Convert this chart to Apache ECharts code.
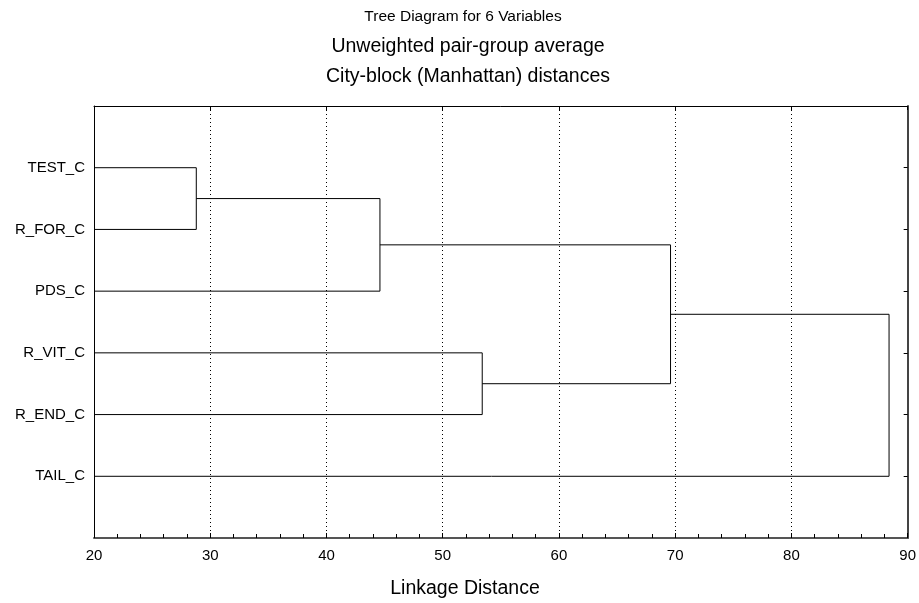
<!DOCTYPE html>
<html><head><meta charset="utf-8">
<script src="https://cdn.jsdelivr.net/npm/echarts@6/dist/echarts.min.js"></script>
<style>html,body{margin:0;padding:0;background:#fff}#c{width:919px;height:603px}</style>
</head><body><div id="c"></div>
<script>
const leaves = ['TEST_C','R_FOR_C','PDS_C','R_VIT_C','R_END_C','TAIL_C'];
// merges: [childA, childB, linkage distance]; nodes >= 6 are earlier clusters
const mergeA = [0, 6, 3, 7, 9];
const mergeB = [1, 2, 4, 8, 5];
const mergeDist = [28.8, 44.6, 53.4, 69.6, 88.4];
const xTicks = [20, 30, 40, 50, 60, 70, 80, 90];
const titles = ['Tree Diagram for 6 Variables', 'Unweighted pair-group average', 'City-block (Manhattan) distances'];
const xName = 'Linkage Distance';

const FONT = '"Liberation Sans", Arial, sans-serif';
const chart = echarts.init(document.getElementById('c'));

// node positions: [height, y]
const nodes = leaves.map((_, i) => [xTicks[0], i + 1]);
const linkData = [];
for (let k = 0; k < mergeDist.length; k++) {
  const a = nodes[mergeA[k]], b = nodes[mergeB[k]], h = mergeDist[k];
  linkData.push([a[0], a[1]], [h, a[1]], [h, b[1]], [b[0], b[1]], null);
  nodes.push([h, (a[1] + b[1]) / 2]);
}

const yLabel = v => (v >= 1 && v <= leaves.length && Number.isInteger(v)) ? leaves[v - 1] : '';

chart.setOption({
  animation: false,
  grid: { left: 94, right: 10, top: 106, bottom: 65 },
  graphic: [
    { type: 'text', x: 463, y: 17, style: { text: titles[0], font: '15.5px ' + FONT, fill: '#000', textAlign: 'center', textVerticalAlign: 'middle' } },
    { type: 'text', x: 468, y: 46.5, style: { text: titles[1], font: '19.5px ' + FONT, fill: '#000', textAlign: 'center', textVerticalAlign: 'middle' } },
    { type: 'text', x: 468, y: 76.5, style: { text: titles[2], font: '19.5px ' + FONT, fill: '#000', textAlign: 'center', textVerticalAlign: 'middle' } },
    { type: 'text', x: 465, y: 589, style: { text: xName, font: '19.5px ' + FONT, fill: '#000', textAlign: 'center', textVerticalAlign: 'middle' } }
  ],
  xAxis: [
    {
      type: 'value', position: 'bottom', min: 20, max: 90, interval: 10,
      axisLine: { show: true, onZero: false, lineStyle: { color: '#555', width: 2 } },
      axisTick: { show: true, inside: true, length: 5, lineStyle: { color: '#000' } },
      minorTick: { show: true, splitNumber: 5, length: 4, lineStyle: { color: '#000' } },
      axisLabel: { color: '#000', fontFamily: FONT, fontSize: 15, margin: 10 },
      splitLine: { show: true, lineStyle: { color: '#000', type: [1, 3], width: 1 } }
    },
    {
      type: 'value', position: 'top', min: 20, max: 90, interval: 10,
      axisLine: { show: true, onZero: false, lineStyle: { color: '#000', width: 1 } },
      axisTick: { show: true, inside: true, length: 4, lineStyle: { color: '#000' } },
      axisLabel: { show: false }, splitLine: { show: false }
    }
  ],
  yAxis: [
    {
      type: 'value', position: 'left', min: 0, max: 7, interval: 1, inverse: true,
      axisLine: { show: true, onZero: false, lineStyle: { color: '#000', width: 1 } },
      axisTick: { show: false },
      axisLabel: { color: '#000', fontFamily: FONT, fontSize: 15, margin: 9, formatter: yLabel },
      splitLine: { show: false }
    },
    {
      type: 'value', position: 'right', min: 0, max: 7, interval: 1, inverse: true,
      axisLine: { show: true, onZero: false, lineStyle: { color: '#444', width: 2 } },
      axisTick: { show: true, inside: true, length: 4, lineStyle: { color: '#000' },
        customValues: leaves.map((_, i) => i + 1) },
      axisLabel: { show: false }, splitLine: { show: false }
    }
  ],
  series: [{
    type: 'line', xAxisIndex: 0, yAxisIndex: 0, data: linkData,
    symbol: 'none', connectNulls: false,
    lineStyle: { color: '#000', width: 1 }, silent: true
  }]
});
</script></body></html>
